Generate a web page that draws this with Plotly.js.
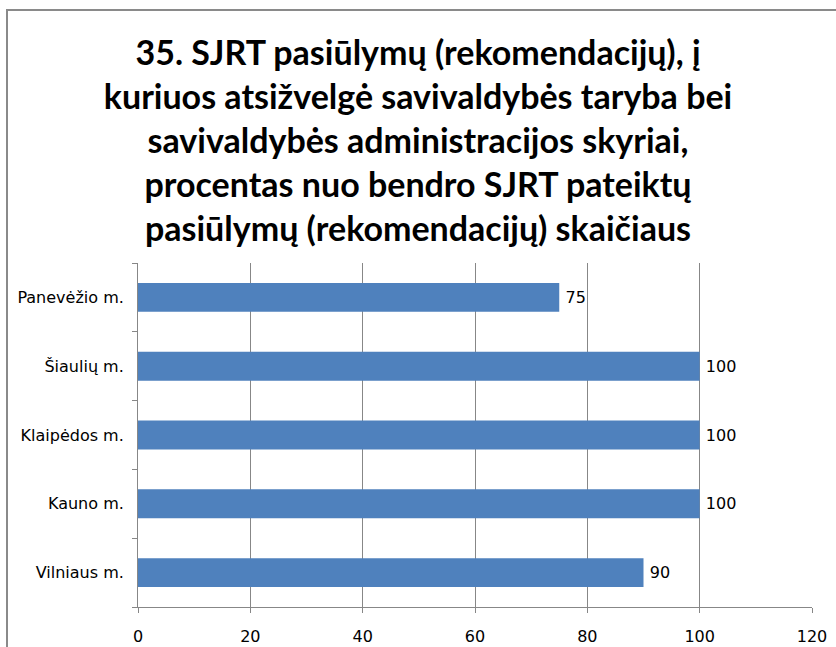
<!DOCTYPE html>
<html>
<head>
<meta charset="utf-8">
<script src="https://cdn.plot.ly/plotly-3.0.1.min.js"></script>
<style>
  html, body { margin: 0; padding: 0; background: #ffffff; }
  #frame { position: absolute; left: 6px; top: 9px; width: 840px; height: 650px;
           border-left: 2px solid #8a8a8a; border-top: 2px solid #8a8a8a; box-sizing: border-box; }
  #chart { position: absolute; left: 0; top: 0; width: 836px; height: 647px; }
</style>
</head>
<body>
<div id="frame"></div>
<div id="chart"></div>
<script>
const categories = ["Vilniaus m.", "Kauno m.", "Klaipėdos m.", "Šiaulių m.", "Panevėžio m."];
const values = [90, 100, 100, 100, 75];
const xTickValues = [0, 20, 40, 60, 80, 100, 120];
const titleText = "35. SJRT pasiūlymų (rekomendacijų), į<br>kuriuos atsižvelgė savivaldybės taryba bei<br>savivaldybės administracijos skyriai,<br>procentas nuo bendro SJRT pateiktų<br>pasiūlymų (rekomendacijų) skaičiaus";

const labelFont = "'DejaVu Sans', 'Open Sans', sans-serif";

const trace = {
  type: "bar",
  orientation: "h",
  y: categories,
  x: values,
  marker: { color: "#4f81bd" },
  texttemplate: "\u2009%{x}",
  textposition: "outside",
  textfont: { family: labelFont, size: 16, color: "#000000" },
  cliponaxis: false,
  hoverinfo: "none",
  width: 0.42
};

const layout = {
  width: 836,
  height: 647,
  paper_bgcolor: "rgba(0,0,0,0)",
  plot_bgcolor: "rgba(0,0,0,0)",
  margin: { l: 138, r: 24, t: 263, b: 40 },
  showlegend: false,
  title: {
    text: titleText,
    font: { family: "Lato, 'Open Sans', sans-serif", size: 34, color: "#000000", weight: "bold" },
    x: 0.5, xanchor: "center",
    y: 0.9, yanchor: "top", yref: "container"
  },
  xaxis: {
    range: [0, 120],
    tickvals: xTickValues,
    ticktext: xTickValues.map(String),
    showgrid: true,
    gridcolor: "#878787",
    gridwidth: 1,
    zeroline: false,
    showline: true,
    linecolor: "#878787",
    ticks: "outside",
    ticklen: 5,
    tickcolor: "#878787",
    ticklabelstandoff: 10,
    tickfont: { family: labelFont, size: 16, color: "#000000" },
    fixedrange: true
  },
  yaxis: {
    type: "category",
    categoryorder: "array",
    categoryarray: categories,
    showgrid: false,
    showline: true,
    linecolor: "#878787",
    ticks: "outside",
    ticklen: 5,
    tickcolor: "#878787",
    tickson: "boundaries",
    ticklabelstandoff: 10,
    tickfont: { family: labelFont, size: 16, color: "#000000" },
    fixedrange: true
  }
};

Plotly.newPlot("chart", [trace], layout, { staticPlot: true });
</script>
</body>
</html>
